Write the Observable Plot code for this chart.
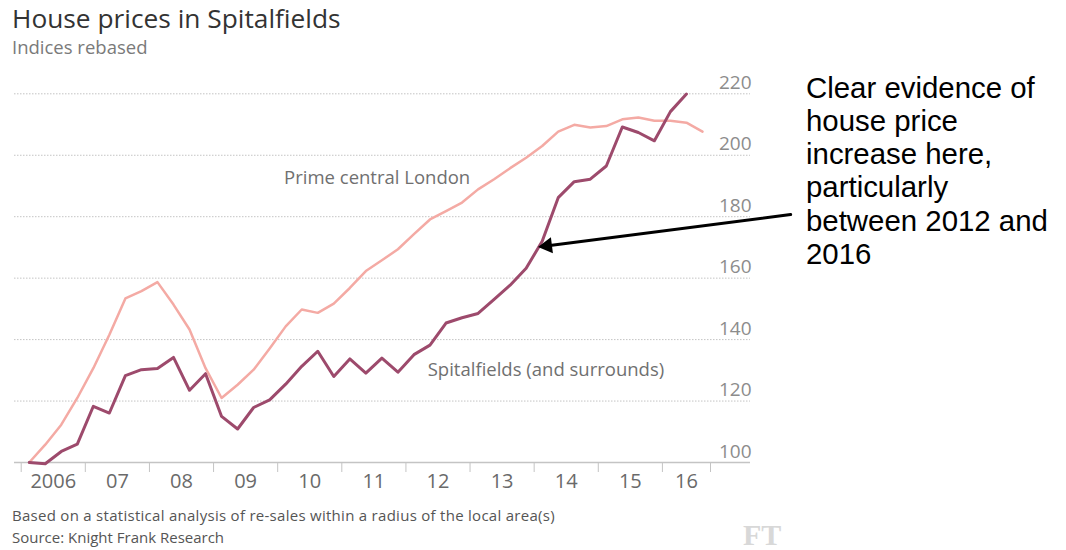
<!DOCTYPE html>
<html><head><meta charset="utf-8">
<script src="https://cdn.jsdelivr.net/npm/d3@7"></script>
<script src="https://cdn.jsdelivr.net/npm/@observablehq/plot@0.6"></script>
<style>
body{margin:0;background:#fff;}
#wrap{position:relative;width:1066px;height:550px;overflow:hidden;font-family:"Open Sans",sans-serif;}
.t{position:absolute;white-space:nowrap;line-height:1;}
#title{left:12px;top:4.6px;font-size:26.3px;color:#333;}
#subtitle{left:12px;top:37.9px;font-size:18.5px;color:#7a7a7a;}
#chart{position:absolute;left:0;top:62px;}
#note{position:absolute;left:806px;top:70.5px;font-family:"Liberation Sans",Arial,sans-serif;font-size:29.4px;line-height:33.3px;color:#000;white-space:nowrap;}
#f1{left:12px;top:507.7px;font-size:15px;color:#555;letter-spacing:0.28px;}
#f2{left:12px;top:529.7px;font-size:15px;color:#555;}
#ft{left:743px;top:520px;font-family:"Liberation Serif",serif;font-weight:bold;font-size:30px;color:#d8d8d8;}
</style></head>
<body>
<div id="wrap">
  <div id="title" class="t">House prices in Spitalfields</div>
  <div id="subtitle" class="t">Indices rebased</div>
  <div id="chart"></div>
  <div id="note">Clear evidence of<br>house price<br>increase here,<br>particularly<br>between 2012 and<br>2016</div>
  <div id="f1" class="t">Based on a statistical analysis of re-sales within a radius of the local area(s)</div>
  <div id="f2" class="t">Source: Knight Frank Research</div>
  <div id="ft" class="t">FT</div>
</div>
<script>
const quarters = ["2006Q1","2006Q2","2006Q3","2006Q4","2007Q1","2007Q2","2007Q3","2007Q4",
  "2008Q1","2008Q2","2008Q3","2008Q4","2009Q1","2009Q2","2009Q3","2009Q4",
  "2010Q1","2010Q2","2010Q3","2010Q4","2011Q1","2011Q2","2011Q3","2011Q4",
  "2012Q1","2012Q2","2012Q3","2012Q4","2013Q1","2013Q2","2013Q3","2013Q4",
  "2014Q1","2014Q2","2014Q3","2014Q4","2015Q1","2015Q2","2015Q3","2015Q4",
  "2016Q1","2016Q2","2016Q3"];
const spitalfields = [100,99.6,103.6,106,118.3,116.1,128.3,130.2,130.6,134.2,123.5,128.9,
  115,110.9,117.9,120.4,125.5,131.3,136.2,128,133.7,129.1,134,129.4,
  135.1,138.2,145.4,147.1,148.5,153.1,157.7,163.2,172,186.2,191.4,192.2,
  196.5,209.2,207.4,204.7,214.2,219.9];
const primeCentralLondon = [100,105.8,112.3,121,130.7,141.6,153.4,155.8,158.7,151.4,143.3,130.7,
  121,125.3,130.2,137.1,144.3,149.8,148.7,151.7,156.8,162.3,165.8,169.4,
  174.3,179.1,181.8,184.6,188.9,192.2,195.8,199.2,203,207.7,209.9,209,
  209.5,211.7,212.3,211.2,211.2,210.6,207.7];
const yTicks = [100,120,140,160,180,200,220];
const xTickYears = [2006,2007,2008,2009,2010,2011,2012,2013,2014,2015,2016,2016.75];
const xLabels = ["2006","07","08","09","10","11","12","13","14","15","16"];
const seriesLabels = [
  {label:"Prime central London", x:2010.1, y:190.5},
  {label:"Spitalfields (and surrounds)", x:2012.34, y:128.3}
];
const arrowPts = [{x1:2018.0, y1:180.7, x2:2014.06, y2:170.1}];

const qx = s => +s.slice(0,4) + (+s.slice(5) - 0.5) / 4;
const spitRows = spitalfields.map((v,i) => ({x: qx(quarters[i]), v}));
const pclRows = primeCentralLondon.map((v,i) => ({x: qx(quarters[i]), v}));
const xLabelPos = xLabels.map((d,i) => (xTickYears[i] + xTickYears[i+1]) / 2);

const chart = Plot.plot({
  width: 1066, height: 443,
  marginLeft: 20.7, marginRight: 356, marginTop: 31.3, marginBottom: 43,
  x: {domain: [2006, 2016.75], axis: null},
  y: {domain: [100, 220], axis: null},
  style: {fontFamily: "Open Sans, sans-serif", overflow: "visible", background: "transparent"},
  marks: [
    Plot.ruleY(yTicks.filter(d => d > 100), {stroke:"#c4c4c4", strokeDasharray:"1.5,1.5", insetLeft:-6.7, insetRight:-40}),
    Plot.ruleY([100], {stroke:"#c4c4c4", strokeWidth:1.5, insetLeft:-6.7, insetRight:-40}),
    Plot.axisX(xTickYears, {tickSize:10, stroke:"#c4c4c4", tickFormat: () => ""}),
    Plot.text(xLabels, {x: (d,i) => xLabelPos[i], text: d => d, frameAnchor:"bottom", dy:25, fill:"#6a6a6a", fontSize:20}),
    Plot.axisY(yTicks, {anchor:"right", tickSize:0, tickPadding:0, textAnchor:"end", dx:41, lineAnchor:"bottom", dy:-5, fontSize:19, fill:"#8c8c8c"}),
    Plot.line(pclRows, {x:"x", y:"v", stroke:"#f4aaa4", strokeWidth:2.5}),
    Plot.line(spitRows, {x:"x", y:"v", stroke:"#9d4a6c", strokeWidth:3}),
    Plot.text(seriesLabels, {x:"x", y:"y", text:"label", textAnchor:"start", lineAnchor:"bottom", fontSize:18.5, fill:"#707070"}),
    Plot.arrow(arrowPts, {x1:"x1", y1:"y1", x2:"x2", y2:"y2", headLength:0, insetEnd:10, strokeWidth:3, stroke:"#000"}),
    Plot.dot(arrowPts, {x:"x2", y:"y2", symbol:"triangle", r:6, fill:"#000", stroke:"none", rotate:262.7, dx:9.26, dy:-1.18})
  ]
});
document.getElementById("chart").appendChild(chart);
</script>
</body></html>
